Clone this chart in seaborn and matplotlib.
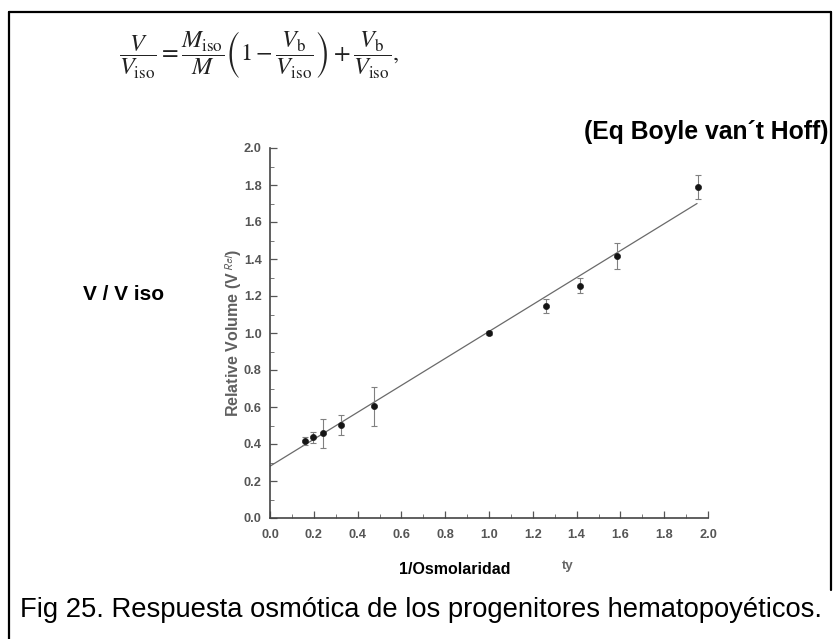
import matplotlib
matplotlib.use("Agg")
import matplotlib.pyplot as plt
import seaborn as sns
import numpy as np
import pandas as pd
from matplotlib.lines import Line2D
from matplotlib.ticker import MultipleLocator

# ---- data ----
inv_osm = [0.16, 0.195, 0.24, 0.324, 0.473, 1.0, 1.26, 1.414, 1.585, 1.953]
rel_vol = [0.416, 0.437, 0.458, 0.504, 0.604, 1.0, 1.145, 1.255, 1.415, 1.79]
err_vol = [0.02, 0.03, 0.078, 0.055, 0.106, 0.01, 0.038, 0.04, 0.07, 0.066]
fit_x = [0.0, 1.95]
fit_y = [0.28, 1.70]
x_ticks = [0.0, 0.2, 0.4, 0.6, 0.8, 1.0, 1.2, 1.4, 1.6, 1.8, 2.0]
y_ticks = [0.0, 0.2, 0.4, 0.6, 0.8, 1.0, 1.2, 1.4, 1.6, 1.8, 2.0]

sns.set_style("ticks")
plt.rcParams['font.family'] = ['Liberation Sans', 'DejaVu Sans']
plt.rcParams['mathtext.fontset'] = 'stix'

W, H = 839, 639
fig = plt.figure(figsize=(W / 100, H / 100), dpi=100)
fig.patch.set_facecolor('white')

def fx(px):
    return px / W

def fy(py):
    return 1 - py / H

# axes: x 0..2 -> px 270..708, y 0..2 -> py 518..148
ax = fig.add_axes([fx(270), fy(518), (708 - 270) / W, (518 - 148) / H])

df = pd.DataFrame({"x": inv_osm, "y": rel_vol, "e": err_vol})
fit_df = pd.DataFrame({"x": fit_x, "y": fit_y})

sns.lineplot(data=fit_df, x="x", y="y", ax=ax, color="#6a6a6a", linewidth=0.9)
ax.errorbar(df["x"], df["y"], yerr=df["e"], fmt="none", ecolor="#808080",
            elinewidth=0.8, capsize=2.2, capthick=0.8, zorder=3)
sns.scatterplot(data=df, x="x", y="y", ax=ax, color="#151515", s=20,
                edgecolor="#151515", linewidth=0.4, zorder=4)

ax.set_xlim(0, 2.0)
ax.set_ylim(0, 2.0)
ax.set_xticks(x_ticks)
ax.set_yticks(y_ticks)
ax.set_xticklabels([f"{v:.1f}" for v in x_ticks])
ax.set_yticklabels([f"{v:.1f}" for v in y_ticks])
ax.xaxis.set_minor_locator(MultipleLocator(0.1))
ax.yaxis.set_minor_locator(MultipleLocator(0.1))
ax.tick_params(which="major", direction="in", length=5, width=0.9, color="#555555",
               labelsize=9.2, labelcolor="#555555")
ax.tick_params(axis="x", which="major", pad=8)
ax.tick_params(axis="y", which="major", pad=6)
ax.tick_params(which="minor", direction="in", length=3, width=0.7, color="#777777")
for lab in ax.get_xticklabels() + ax.get_yticklabels():
    lab.set_fontweight("bold")
for s in ["top", "right"]:
    ax.spines[s].set_visible(False)
for s in ["left", "bottom"]:
    ax.spines[s].set_color("#444444")
    ax.spines[s].set_linewidth(1.2)
ax.set_xlabel("")
ax.set_ylabel(r"Relative Volume (V$^{\ \mathsf{Rel}}$)", fontsize=11.5, color="#606060",
              fontweight="bold", labelpad=0)

# ---- annotations ----
fig.text(fx(259), fy(55),
         r'$\dfrac{V}{V_{\rm iso}} = \dfrac{M_{\rm iso}}{M}\left(1 - \dfrac{V_{\rm b}}{V_{\rm iso}}\right) + \dfrac{V_{\rm b}}{V_{\rm iso}},$',
         ha="center", va="center", fontsize=17.5, color="#222222")
fig.text(fx(828), fy(132), "(Eq Boyle van´t Hoff)", ha="right", va="center",
         fontsize=17.8, fontweight="bold", color="black")
fig.text(fx(83), fy(295), "V / V iso", ha="left", va="center",
         fontsize=15, fontweight="bold", color="black")
fig.text(fx(455), fy(570), "1/Osmolaridad", ha="center", va="center",
         fontsize=11.5, fontweight="bold", color="black")
fig.text(fx(562), fy(566), "ty", ha="left", va="center",
         fontsize=9.5, fontweight="bold", color="#666666")
fig.text(fx(20), fy(610), "Fig 25. Respuesta osmótica de los progenitores hematopoyéticos.",
         ha="left", va="center", fontsize=19.7, color="black")

# ---- frame ----
fig.add_artist(Line2D([fx(9), fx(9)], [fy(12), fy(639)], color="black", linewidth=1.6))
fig.add_artist(Line2D([fx(9), fx(831)], [fy(12), fy(12)], color="black", linewidth=1.6))
fig.add_artist(Line2D([fx(831), fx(831)], [fy(12), fy(590)], color="black", linewidth=1.6))

fig.savefig("out.png", dpi=100, facecolor="white")
